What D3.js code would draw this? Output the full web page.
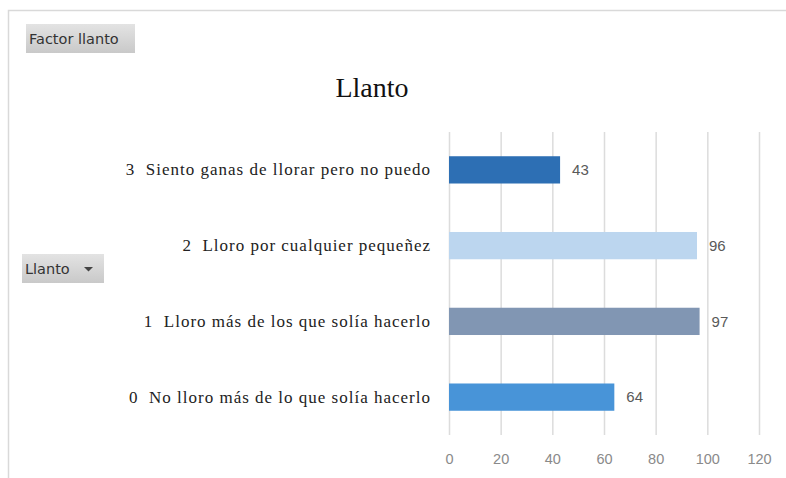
<!DOCTYPE html>
<html>
<head>
<meta charset="utf-8">
<script src="https://cdn.jsdelivr.net/npm/d3@7"></script>
<style>
  html, body { margin: 0; padding: 0; background: #fff; }
  svg { display: block; }
</style>
</head>
<body>
<svg id="chart" width="786" height="478"></svg>
<script>
// Answers to the "Llanto" item, listed top to bottom
const categories = [
  "3  Siento ganas de llorar pero no puedo",
  "2  Lloro por cualquier pequeñez",
  "1  Lloro más de los que solía hacerlo",
  "0  No lloro más de lo que solía hacerlo"
];
const values = [43, 96, 97, 64];
const barColors = ["#2d6fb4", "#bcd6ef", "#8196b3", "#4894d8"];
const tickValues = [0, 20, 40, 60, 80, 100, 120];
const titleText = "Llanto";
const filterLabel = "Factor llanto";
const axisFieldLabel = "Llanto";

const svg = d3.select("#chart");
const W = 786, H = 478;
const plot = { left: 449, right: 759, top: 132, bottom: 435 };

// Chart frame
svg.append("path")
  .attr("d", `M8.5,${H} V10.5 H${W}`)
  .attr("fill", "none")
  .attr("stroke", "#d9d9d9")
  .attr("stroke-width", 1.5);

// Gradient used by the pivot field buttons
const defs = svg.append("defs");
const grad = defs.append("linearGradient")
  .attr("id", "btnGrad").attr("x1", 0).attr("y1", 0).attr("x2", 0).attr("y2", 1);
grad.append("stop").attr("offset", "0%").attr("stop-color", "#e3e3e3");
grad.append("stop").attr("offset", "100%").attr("stop-color", "#c9c9c9");

// Filter field button
svg.append("rect")
  .attr("x", 26).attr("y", 24).attr("width", 109).attr("height", 29)
  .attr("fill", "url(#btnGrad)");
svg.append("text")
  .attr("x", 29).attr("y", 44)
  .attr("font-family", "DejaVu Sans, sans-serif")
  .attr("font-size", 14.5)
  .attr("fill", "#333")
  .text(filterLabel);

// Axis field button with drop-down arrow
svg.append("rect")
  .attr("x", 22).attr("y", 254).attr("width", 82).attr("height", 29)
  .attr("fill", "url(#btnGrad)");
svg.append("text")
  .attr("x", 25).attr("y", 274)
  .attr("font-family", "DejaVu Sans, sans-serif")
  .attr("font-size", 14.5)
  .attr("fill", "#333")
  .text(axisFieldLabel);
svg.append("path")
  .attr("d", "M84,267 L93,267 L88.5,271.5 Z")
  .attr("fill", "#444");

// Title
svg.append("text")
  .attr("x", 372).attr("y", 97)
  .attr("text-anchor", "middle")
  .attr("font-family", "Liberation Serif, Times New Roman, serif")
  .attr("font-size", 28)
  .attr("fill", "#111")
  .text(titleText);

// Scales
const x = d3.scaleLinear().domain([0, 120]).range([plot.left, plot.right]);
const y = d3.scaleBand().domain(categories).range([plot.top, plot.bottom]).paddingInner(0.64).paddingOuter(0.32);

// Vertical gridlines
svg.append("g")
  .selectAll("line")
  .data(tickValues)
  .join("line")
  .attr("x1", d => x(d) + 0.5).attr("x2", d => x(d) + 0.5)
  .attr("y1", plot.top).attr("y2", plot.bottom)
  .attr("stroke", "#dcdcdc")
  .attr("stroke-width", 1.5);

// X axis tick labels
const xAxis = d3.axisBottom(x).tickValues(tickValues).tickSize(0).tickPadding(0);
const gx = svg.append("g")
  .attr("transform", `translate(0,${plot.bottom + 19})`)
  .call(xAxis);
gx.select(".domain").remove();
gx.selectAll("text")
  .attr("font-family", "Liberation Sans, Arial, sans-serif")
  .attr("font-size", 14.5)
  .attr("fill", "#8a8a8a");

// Category labels
const yAxis = d3.axisLeft(y).tickSize(0).tickPadding(18);
const gy = svg.append("g")
  .attr("transform", `translate(${plot.left},0)`)
  .call(yAxis);
gy.select(".domain").remove();
gy.selectAll("text")
  .attr("font-family", "Liberation Serif, Times New Roman, serif")
  .attr("font-size", 17)
  .attr("letter-spacing", 1)
  .style("white-space", "pre")
  .attr("fill", "#222");

// Bars
const rows = categories.map((c, i) => ({ c, v: values[i], color: barColors[i] }));
svg.append("g")
  .selectAll("rect")
  .data(rows)
  .join("rect")
  .attr("x", x(0))
  .attr("y", d => y(d.c))
  .attr("width", d => x(d.v) - x(0))
  .attr("height", y.bandwidth())
  .attr("fill", d => d.color);

// Value labels
svg.append("g")
  .selectAll("text")
  .data(rows)
  .join("text")
  .attr("x", d => x(d.v) + 12)
  .attr("y", d => y(d.c) + y.bandwidth() / 2)
  .attr("dy", "0.35em")
  .attr("font-family", "Liberation Sans, Arial, sans-serif")
  .attr("font-size", 15)
  .attr("fill", "#595959")
  .text(d => d.v);
</script>
</body>
</html>
